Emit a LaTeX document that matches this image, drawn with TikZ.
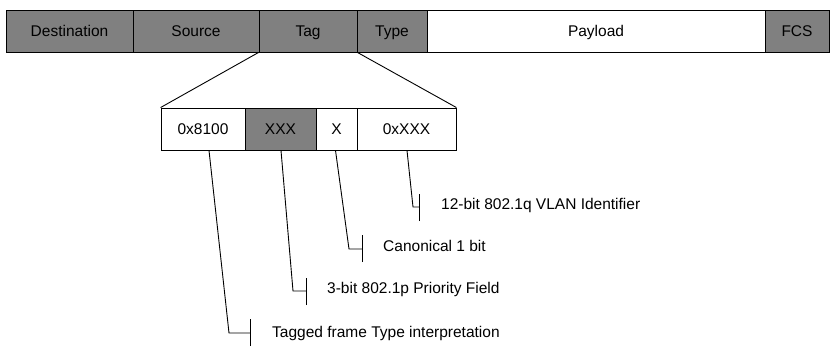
\documentclass[tikz,border=0pt]{standalone}
\usepackage{fontspec}
\setmainfont{Liberation Sans}
\definecolor{framegray}{RGB}{128,128,128}
\begin{document}
\begin{tikzpicture}[x=1pt,y=-1pt,
  font=\fontsize{15.5}{18}\selectfont,
  cell/.style={draw=black, line width=0.9pt, inner sep=0pt, minimum height=42pt, text height=11pt, text depth=0pt},
  graycell/.style={cell, fill=framegray},
  whitecell/.style={cell, fill=white},
  lead/.style={draw=black, line width=0.9pt},
  lbl/.style={anchor=base west, inner sep=0pt}]
\useasboundingbox (0,0) rectangle (837,349);
% top frame
\node[graycell, minimum width=127pt] (dest) at (69.5,31) {Destination};
\node[graycell, minimum width=126pt] (src) at (196,31) {Source};
\node[graycell, minimum width=98pt] (tag) at (308,31) {Tag};
\node[graycell, minimum width=70pt] (type) at (392,31) {Type};
\node[whitecell, minimum width=338pt] (pay) at (596,31) {Payload};
\node[graycell, minimum width=64pt] (fcs) at (797,31) {FCS};
% tag detail
\node[whitecell, minimum width=84pt] (b1) at (203,129) {0x8100};
\node[graycell, minimum width=71pt] (b2) at (280.5,129) {XXX};
\node[whitecell, minimum width=41pt] (b3) at (336.5,129) {X};
\node[whitecell, minimum width=99pt] (b4) at (406.5,129) {0xXXX};
% expansion lines
\draw[lead] (tag.south west) -- (b1.north west);
\draw[lead] (tag.south east) -- (b4.north east);
% labels
\node[lbl] (l4) at (441,209.5) {12-bit 802.1q VLAN Identifier};
\node[lbl] (l3) at (383,251.5) {Canonical 1 bit};
\node[lbl] (l2) at (327,293.5) {3-bit 802.1p Priority Field};
\node[lbl] (l1) at (272,337.5) {Tagged frame Type interpretation};
% leader coordinates
\coordinate (k1) at (229,333); \coordinate (t1) at (250,333);
\coordinate (k2) at (293,291); \coordinate (t2) at (306,291);
\coordinate (k3) at (349,249); \coordinate (t3) at (362,249);
\coordinate (k4) at (413,207); \coordinate (t4) at (419,207);
\draw[lead] ([xshift=6pt]b1.south) -- (k1) -- (t1);
\draw[lead] ([xshift=0.5pt]b2.south) -- (k2) -- (t2);
\draw[lead] ([xshift=-1pt]b3.south) -- (k3) -- (t3);
\draw[lead] ([xshift=0.5pt]b4.south) -- (k4) -- (t4);
\draw[lead] ([yshift=-13pt]t1) -- ([yshift=14pt]t1);
\draw[lead] ([yshift=-14pt]t2) -- ([yshift=13pt]t2);
\draw[lead] ([yshift=-13pt]t3) -- ([yshift=14pt]t3);
\draw[lead] ([yshift=-14pt]t4) -- ([yshift=13pt]t4);
\end{tikzpicture}
\end{document}
